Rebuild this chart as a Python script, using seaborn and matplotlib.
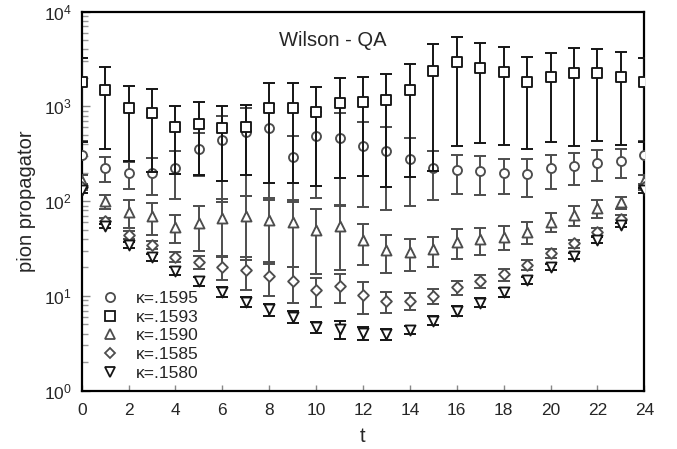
import matplotlib
matplotlib.use("Agg")
import matplotlib.pyplot as plt
from matplotlib.lines import Line2D
from matplotlib.ticker import LogLocator, MultipleLocator, NullFormatter, NullLocator
import numpy as np
import pandas as pd
import seaborn as sns

# Euclidean time slices
t = list(range(25))

# pion propagator per hopping parameter, with statistical errors
k1595 = [307, 226, 197, 200, 224, 356, 443, 533, 587, 295, 488, 468, 383,
         341, 277, 222, 213, 208, 200, 194, 222, 237, 255, 266, 307]
k1595_err = [120, 65, 62, 85, 118, 170, 345, 420, 480, 196, 380, 378, 296,
             260, 188, 118, 95, 93, 80, 82, 88, 88, 91, 90, 120]

k1593 = [1824, 1493, 955, 859, 602, 648, 587, 611, 955, 955, 880, 1079, 1122,
         1170, 1493, 2385, 2924, 2525, 2328, 1824, 2032, 2271, 2239, 2061, 1824]
k1593_err = [1400, 1137, 689, 658, 409, 459, 424, 424, 800, 799, 734, 904, 939,
             1030, 1312, 2178, 2540, 2109, 1937, 1472, 1608, 1888, 1806, 1672, 1400]

k1590 = [165, 100, 77, 70, 54, 59, 66, 69, 63, 61, 50, 55, 39,
         30.5, 29.3, 31.3, 37.4, 39.6, 42.2, 47.6, 60.8, 71.5, 84, 97, 165]
k1590_err = [22, 17, 25, 26, 18, 29, 40, 45, 41, 41, 33, 36, 18,
             13, 11, 11, 13, 12.6, 12, 12, 14, 17, 18, 14, 22]

k1585 = [142, 62, 44, 34.5, 26, 22.6, 20.4, 18.8, 16.4, 14.4, 11.6, 12.8, 10.2,
         8.85, 8.85, 10.1, 12.3, 14.4, 16.9, 21.2, 28.2, 35.9, 47.7, 64.9, 142]
k1585_err = [10, 5, 4, 3.5, 3, 3.5, 5.7, 7.2, 6.4, 6, 3.9, 4.4, 3.75,
             2.2, 1.8, 1.8, 2.1, 2.2, 2.4, 2.6, 3.3, 3.5, 4.7, 6, 10]

k1580 = [130, 54.7, 34.5, 25.6, 18.3, 14.4, 11.1, 8.7, 7.2, 6.04, 4.7, 4.5, 4.1,
         3.97, 4.37, 5.48, 6.94, 8.5, 10.9, 14.7, 20.4, 26.4, 38.9, 56.1, 130]
k1580_err = [8, 3, 2.5, 2, 1.8, 1.6, 1.3, 1.1, 1.0, 0.9, 0.65, 0.95, 0.65,
             0.5, 0.45, 0.6, 0.8, 0.9, 1.1, 1.3, 1.5, 2, 2.5, 3, 8]

labels = ["κ=.1595", "κ=.1593", "κ=.1590", "κ=.1585", "κ=.1580"]

sns.set_style("white")
plt.rcParams["font.family"] = ["Liberation Sans", "DejaVu Sans"]
plt.rcParams["mathtext.fontset"] = "custom"
plt.rcParams["mathtext.rm"] = "Liberation Sans"
plt.rcParams["mathtext.it"] = "Liberation Sans:italic"

GRAY = "#4d4d4d"
BLACK = "#151515"

# series styling: marker, scatter size, legend marker size, colour
styles = {
    "κ=.1595": ("o", 42, 6.6, GRAY),
    "κ=.1593": ("s", 42, 6.6, BLACK),
    "κ=.1590": ("^", 52, 7.4, GRAY),
    "κ=.1585": ("D", 30, 5.6, GRAY),
    "κ=.1580": ("v", 52, 7.4, BLACK),
}

frames = []
for lab, vals, errs in zip(labels,
                           [k1595, k1593, k1590, k1585, k1580],
                           [k1595_err, k1593_err, k1590_err, k1585_err, k1580_err]):
    frames.append(pd.DataFrame({"t": t, "value": vals, "err": errs, "kappa": lab}))
df = pd.concat(frames, ignore_index=True)

fig = plt.figure(figsize=(6.77, 4.49), dpi=100)
ax = fig.add_axes([81.7 / 677, 1 - 390.7 / 449, 562.6 / 677, 379 / 449])

draw_order = ["κ=.1595", "κ=.1590", "κ=.1585", "κ=.1580", "κ=.1593"]
for i, lab in enumerate(draw_order):
    sub = df[df["kappa"] == lab]
    marker, size, _, col = styles[lab]
    ax.errorbar(sub["t"], sub["value"], yerr=sub["err"], fmt="none",
                ecolor=col, elinewidth=1.4, capsize=4, capthick=1.4,
                zorder=2 + 2 * i)
    sns.scatterplot(data=sub, x="t", y="value", marker=marker, s=size,
                    color="white", edgecolor=col, linewidth=1.35,
                    ax=ax, zorder=3 + 2 * i, legend=False)

ax.set_yscale("log")
ax.set_xlim(0, 24)
ax.set_ylim(1, 1e4)

ax.xaxis.set_major_locator(MultipleLocator(2))
ax.xaxis.set_minor_locator(NullLocator())
ax.yaxis.set_major_locator(LogLocator(base=10, numticks=10))
ax.yaxis.set_minor_locator(LogLocator(base=10, subs=np.arange(2, 10), numticks=20))
ax.yaxis.set_minor_formatter(NullFormatter())

ax.tick_params(axis="x", which="major", direction="in", length=4, width=1,
               color="#888888", labelsize=12.5, pad=9, top=False, bottom=True)
ax.tick_params(axis="y", which="major", direction="in", length=6, width=1,
               color="#888888", labelsize=12.5, pad=7, left=True, right=False)
ax.tick_params(axis="y", which="minor", direction="in", length=4, width=1,
               color="#999999", left=True, right=False)

for sp in ax.spines.values():
    sp.set_linewidth(1.6)
    sp.set_color("black")

ax.set_xlabel("t", fontsize=14.5, labelpad=6)
ax.set_ylabel("pion propagator", fontsize=14.5, labelpad=6)

ax.text(0.447, 0.925, "Wilson - QA", transform=ax.transAxes,
        ha="center", va="center", fontsize=14.5)

handles = []
for lab in labels:
    marker, _, msize, col = styles[lab]
    handles.append(Line2D([], [], marker=marker, linestyle="none",
                          markerfacecolor="white", markeredgecolor=col,
                          markersize=msize, markeredgewidth=1.3))
ax.legend(handles, labels, loc="upper left", bbox_to_anchor=(0.0355, 0.263),
          frameon=False, fontsize=12.5, handlelength=1.0, handletextpad=0.95,
          labelspacing=0.2, borderpad=0.0, borderaxespad=0.0)

fig.savefig("out.png", dpi=100)
